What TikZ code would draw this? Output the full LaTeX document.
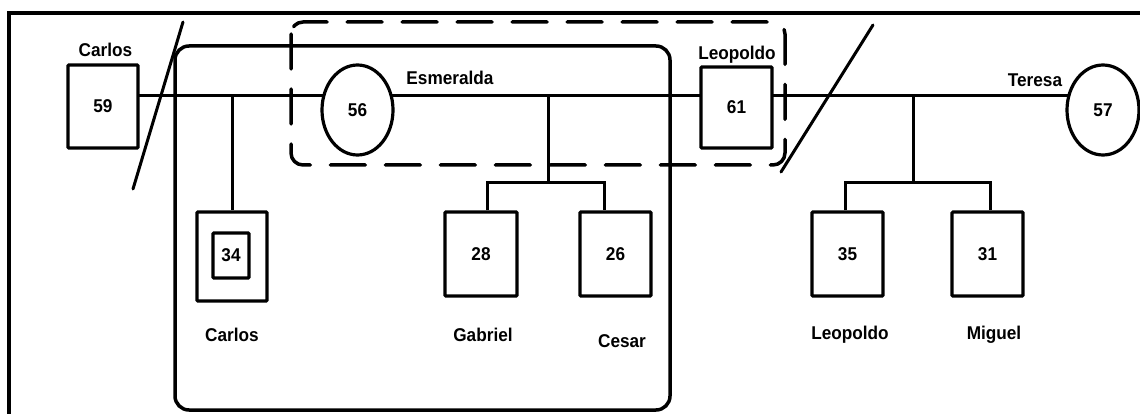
\documentclass[tikz,border=0pt]{standalone}
\usepackage{fontspec}
\setmainfont{Liberation Sans}[FakeStretch=0.93]
\usetikzlibrary{shapes.geometric,backgrounds}
\begin{document}
\begin{tikzpicture}[x=1pt,y=-1pt,
  every node/.style={font=\fontsize{18.5}{21}\selectfont\bfseries},
  malebox/.style={draw,line width=3.2pt,fill=white,rounded corners=1pt,inner sep=0pt},
  femalebox/.style={draw,ellipse,line width=3.2pt,fill=white,inner sep=0pt},
  personname/.style={inner sep=0pt},
  link/.style={line width=3pt},
  cutline/.style={line width=3pt,line cap=round},
  household/.style={line width=3.5pt,rounded corners=14pt},
  focusgroup/.style={line width=3.5pt,rounded corners=12pt,dash pattern=on 35pt off 20pt,line cap=round}]
\useasboundingbox (0,0) rectangle (1140,414);
\clip (0,0) rectangle (1140,414);

% people
\node[malebox,minimum width=70pt,minimum height=83pt] (c59) at (103,106.5) {59};
\node[femalebox,minimum width=71pt,minimum height=90pt] (e56) at (357.5,110) {56};
\node[malebox,minimum width=71pt,minimum height=81pt] (l61) at (736.5,107.5) {61};
\node[femalebox,minimum width=72pt,minimum height=90pt] (t57) at (1103,110) {57};
\node[malebox,minimum width=70pt,minimum height=89pt] (c34) at (232,256.5) {};
\node[malebox,minimum width=36pt,minimum height=45pt] (c34i) at (231,255.5) {34};
\node[malebox,minimum width=72pt,minimum height=84pt] (g28) at (481,254) {28};
\node[malebox,minimum width=71pt,minimum height=84pt] (c26) at (615.5,254) {26};
\node[malebox,minimum width=71pt,minimum height=84pt] (l35) at (847.5,254) {35};
\node[malebox,minimum width=71pt,minimum height=84pt] (m31) at (987.5,254) {31};

% names
\node[personname] (nc59) at (105.5,50) {Carlos};
\node[personname] (ne56) at (450,78) {Esmeralda};
\node[personname] (nl61) at (737,55) {Leopoldo};
\node[personname] (nt57) at (1035,80) {Teresa};
\node[personname] (nc34) at (232,335) {Carlos};
\node[personname] (ng28) at (483,335) {Gabriel};
\node[personname] (nc26) at (622,341) {Cesar};
\node[personname] (nl35) at (850,335) {Leopoldo};
\node[personname] (nm31) at (994,335) {Miguel};

% line points
\coordinate (m) at (0,96);
\coordinate (k1) at (232,96);
\coordinate (k2) at (548,96);
\coordinate (s2) at (548,183);
\coordinate (k3) at (913,96);
\coordinate (s3) at (913,183);

\begin{pgfonlayer}{background}
  % frame
  \draw[line width=4pt] (9,13) rectangle (1170,440);
  % household and focus group
  \draw[household] (175,46) rectangle (670,410);
  \draw[focusgroup] (291,22) rectangle (785,165);
  % marriage line
  \draw[link] (c59.center |- m) -- (e56.center |- m) -- (l61.center |- m) -- (t57.center |- m);
  % children
  \draw[link] (k1) -- (c34.north);
  \draw[link] (k2) -- (s2);
  \draw[link] ([xshift=6pt]g28.north) |- (s2) -| ([xshift=-11.5pt]c26.north);
  \draw[link] (k3) -- (s3);
  \draw[link] ([xshift=-2.5pt]l35.north) |- (s3) -| ([xshift=2.5pt]m31.north);
  % divorce marks
  \draw[cutline] (183,22) -- (133,189);
  \draw[cutline] (873,25) -- (781,172);
\end{pgfonlayer}
\end{tikzpicture}
\end{document}
